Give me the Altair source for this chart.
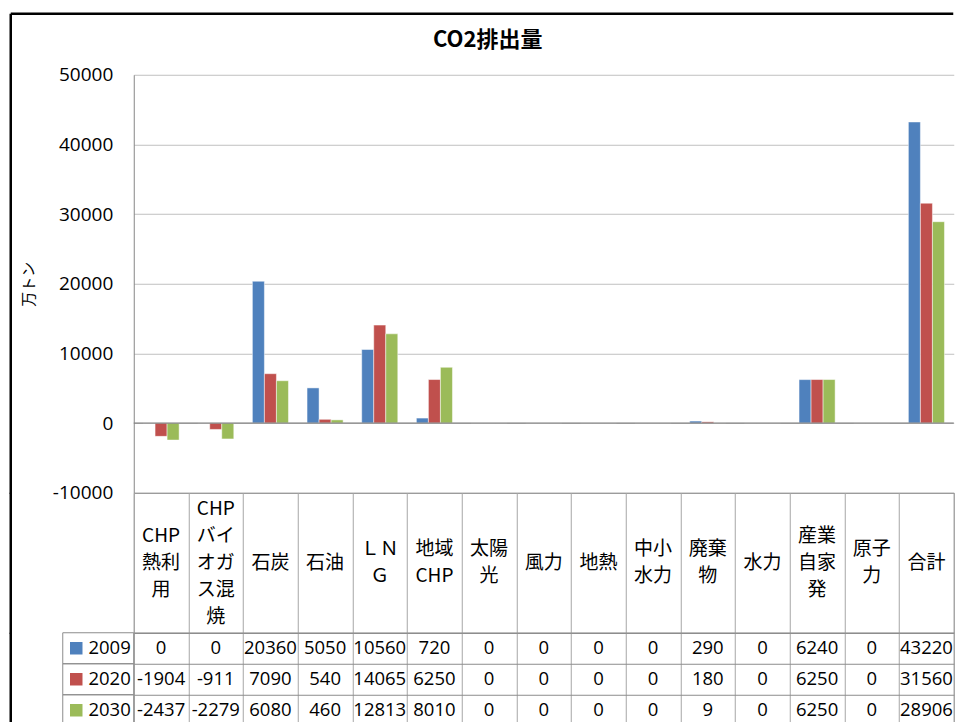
import altair as alt
import pandas as pd

# Energy source categories (row keys) and their multi-line table headers
categories = ["CHP熱利用", "CHPバイオガス混焼", "石炭", "石油", "LNG", "地域CHP", "太陽光",
              "風力", "地熱", "中小水力", "廃棄物", "水力", "産業自家発", "原子力", "合計"]
headers = ["CHP\n熱利\n用", "CHP\nバイ\nオガ\nス混\n焼", "石炭", "石油", "ＬＮ\nＧ", "地域\nCHP",
           "太陽\n光", "風力", "地熱", "中小\n水力", "廃棄\n物", "水力", "産業\n自家\n発", "原子\n力", "合計"]

years = ["2009", "2020", "2030"]
colors = ["#4f81bd", "#c0504d", "#9bbb59"]

# CO2 emissions, 10,000 t
v2009 = [0, 0, 20360, 5050, 10560, 720, 0, 0, 0, 0, 290, 0, 6240, 0, 43220]
v2020 = [-1904, -911, 7090, 540, 14065, 6250, 0, 0, 0, 0, 180, 0, 6250, 0, 31560]
v2030 = [-2437, -2279, 6080, 460, 12813, 8010, 0, 0, 0, 0, 9, 0, 6250, 0, 28906]

y_ticks = [-10000, 0, 10000, 20000, 30000, 40000, 50000]

rows = []
for year, vals in zip(years, [v2009, v2020, v2030]):
    for cat, v in zip(categories, vals):
        rows.append({"category": cat, "year": year, "value": v, "label": str(v)})
df = pd.DataFrame(rows)
df_head = pd.DataFrame({"category": categories, "header": headers})
df_years = pd.DataFrame({"year": years})

W = 820
H_PLOT = 418
H_HEAD = 140
H_ROWS = 93
LINE_H = 27
LINE = "#8c8c8c"
VLINE = "#a6a6a6"
NUM_FONT = "Open Sans"
JP_FONT = "Noto Sans CJK JP"

color = alt.Color("year:N", scale=alt.Scale(domain=years, range=colors), legend=None)


def frame_left(h, top=0):
    return alt.Chart(df_years.head(1)).mark_rule(color="black", strokeWidth=2.5).encode(
        x=alt.value(-123), y=alt.value(top), y2=alt.value(h)
    )


# --- bar chart ---
bars = alt.Chart(df).mark_bar(stroke="white", strokeWidth=0.8, strokeOpacity=0.6).encode(
    x=alt.X("category:N", sort=categories, axis=None,
            scale=alt.Scale(paddingInner=0.34, paddingOuter=0.17)),
    xOffset=alt.XOffset("year:N", sort=years),
    y=alt.Y("value:Q", scale=alt.Scale(domain=[-10000, 50000], nice=False),
            axis=alt.Axis(values=y_ticks, title="万トン", grid=True, gridColor="#c0c0c0",
                          domainColor="#868686", ticks=False, labelPadding=21,
                          labelFont=NUM_FONT, labelFontSize=19, labelColor="black",
                          labelExpr="'' + datum.value",
                          titleFont=JP_FONT, titleFontSize=15, titleFontWeight="normal",
                          titleColor="black", titlePadding=16)),
    color=color,
)
zero = alt.Chart(pd.DataFrame({"zero": [0]})).mark_rule(color="#868686", strokeWidth=1.2).encode(
    y="zero:Q"
)
title = alt.Chart(pd.DataFrame({"t": ["CO2排出量"]})).mark_text(
    font=JP_FONT, fontSize=22, fontWeight="bold", color="black", baseline="middle"
).encode(text="t:N", x=alt.value(354), y=alt.value(-35))
frame_top = alt.Chart(df_years.head(1)).mark_rule(color="black", strokeWidth=2.5).encode(
    x=alt.value(-123), x2=alt.value(819.5), y=alt.value(-61)
)
top = alt.layer(bars, zero, title, frame_top, frame_left(H_PLOT + 1, -61)).properties(
    width=W, height=H_PLOT, view=alt.ViewBackground(stroke=None)
)

# --- table header row ---
x_table = alt.X("category:N", sort=categories,
                scale=alt.Scale(paddingInner=0, paddingOuter=0),
                axis=alt.Axis(labels=False, ticks=False, domain=False, title=None, grid=True,
                              tickBand="extent", gridColor=VLINE, minExtent=0))
head_text = alt.Chart(df_head).transform_calculate(
    # shift multi-line headers up so each block is centred in the cell
    ypos=f"{H_HEAD / 2} - (length(split(datum.header, '\\n')) - 1) * {LINE_H / 2}"
).mark_text(
    font=JP_FONT, fontSize=19, lineBreak="\n", lineHeight=LINE_H, baseline="middle", color="black"
).encode(x=x_table, y=alt.Y("ypos:Q", scale=None, axis=None), text="header:N")
header = alt.layer(head_text, frame_left(H_HEAD + 1)).properties(
    width=W, height=H_HEAD, view=alt.ViewBackground(stroke=LINE)
)

# --- table value rows with legend keys ---
y_rows = alt.Y("year:N", sort=years, scale=alt.Scale(paddingInner=0, paddingOuter=0),
               axis=alt.Axis(labels=False, ticks=False, domain=False, title=None, grid=True,
                             tickBand="extent", gridColor=LINE, minExtent=0))
vals = alt.Chart(df).mark_text(font=NUM_FONT, fontSize=18.5, color="black", baseline="middle").encode(
    x=x_table, y=y_rows, text="label:N"
)
key_cells = alt.Chart(df_years).mark_rect(fillOpacity=0, stroke=LINE, strokeWidth=1).encode(
    x=alt.value(-71), x2=alt.value(0), y=alt.Y("year:N", sort=years)
)
key_squares = alt.Chart(df_years).mark_square(size=156, opacity=1).encode(
    x=alt.value(-57.5), y=alt.Y("year:N", sort=years), color=color
)
key_text = alt.Chart(df_years).mark_text(
    font=NUM_FONT, fontSize=18.5, align="right", baseline="middle", color="black"
).encode(x=alt.value(-3), y=alt.Y("year:N", sort=years), text="year:N")
table = alt.layer(vals, key_cells, key_squares, key_text, frame_left(H_ROWS)).properties(
    width=W, height=H_ROWS, view=alt.ViewBackground(stroke=LINE)
)

chart = alt.vconcat(top, header, table, spacing=0, bounds="flush").resolve_scale(
    x="independent", color="shared"
).properties(
    padding={"left": 8.75, "top": 11.75, "right": 0, "bottom": 0},
    background="white",
)

chart.save("out.html", embed_options={"renderer": "svg", "actions": False})
